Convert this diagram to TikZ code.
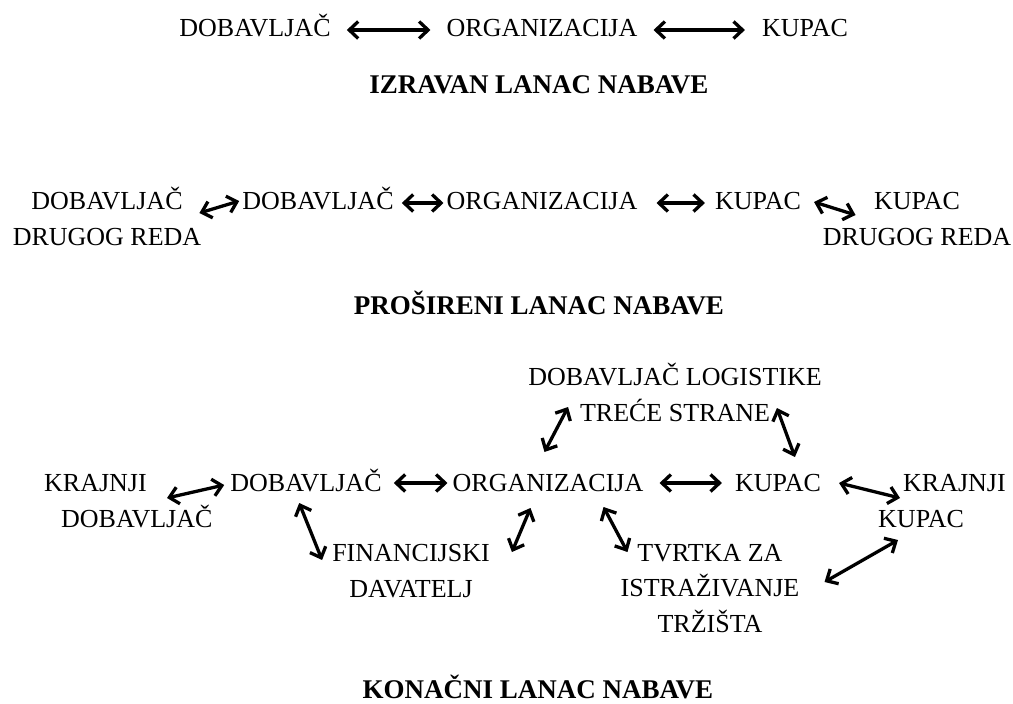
\documentclass[tikz,border=0pt]{standalone}
\usepackage{fontspec}
\setmainfont{Liberation Serif}
\usetikzlibrary{arrows.meta}

\begin{document}
\begin{tikzpicture}[x=1pt,y=-1pt,
    every node/.style={inner sep=0pt,anchor=base,font=\fontsize{26}{35.5}\selectfont},
    every path/.style={>={Straight Barb[length=9pt,width=17pt]}},
    link/.style={<->,line width=3.3pt},
    title/.style={font=\fontsize{27}{30}\selectfont\bfseries}]
\useasboundingbox (0,0) rectangle (1013,704);

% izravan lanac
\node (sup1) at (255,36.5) {DOBAVLJAČ};
\node (org1) at (542,36.5) {ORGANIZACIJA};
\node (cus1) at (805,36.5) {KUPAC};
\node[title] (t1) at (539,93.5) {IZRAVAN LANAC NABAVE};
\draw[link] ([shift={(16,-6.5)}]sup1.base east) -- ([shift={(-16,-6.5)}]org1.base west);
\draw[link] ([shift={(16,-6.5)}]org1.base east) -- ([shift={(-17,-6.5)}]cus1.base west);

% prosireni lanac (base = zadnji redak)
\node[align=center] (supB2) at (107,245) {DOBAVLJAČ\\DRUGOG REDA};
\node (sup2) at (318,209.5) {DOBAVLJAČ};
\node (org2) at (542,209.5) {ORGANIZACIJA};
\node (cus2) at (758,209.5) {KUPAC};
\node[align=center] (cusB2) at (917,245) {KUPAC\\DRUGOG REDA};
\node[title] (t2) at (539,314.5) {PROŠIRENI LANAC NABAVE};
\draw[link] ([shift={(-2,-32)}]supB2.base east) -- ([shift={(-3,-8.5)}]sup2.base west);
\draw[link] ([shift={(8,-6.5)}]sup2.base east) -- ([shift={(-3,-6.5)}]org2.base west);
\draw[link] ([shift={(19,-6.5)}]org2.base east) -- ([shift={(-10,-6.5)}]cus2.base west);
\draw[link] ([shift={(13,-7.5)}]cus2.base east) -- ([shift={(33,-30)}]cusB2.base west);

% konacni lanac
\node[align=left,anchor=base west] (supB3) at (44,527) {KRAJNJI\\\hspace*{17pt}DOBAVLJAČ};
\node (sup3) at (306,491.5) {DOBAVLJAČ};
\node (org3) at (548,491.5) {ORGANIZACIJA};
\node (cus3) at (778,491.5) {KUPAC};
\node[align=left,anchor=base west] (cusB3) at (878,527) {\hspace*{25pt}KRAJNJI\\KUPAC};
\node[align=center] (log3) at (675,421) {DOBAVLJAČ LOGISTIKE\\TREĆE STRANE};
\node[align=center] (fin3) at (411,597) {FINANCIJSKI\\DAVATELJ};
\node[align=center] (res3) at (710,632) {TVRTKA ZA\\ISTRAŽIVANJE\\TRŽIŠTA};
\node[title] (t3) at (538,698.5) {KONAČNI LANAC NABAVE};
\draw[link] ([shift={(123,-29)}]supB3.base west) -- ([shift={(-6,-6.5)}]sup3.base west);
\draw[link] ([shift={(12,-8.5)}]sup3.base east) -- ([shift={(-5,-8.5)}]org3.base west);
\draw[link] ([shift={(16,-8.5)}]org3.base east) -- ([shift={(-13,-8.5)}]cus3.base west);
\draw[link] ([shift={(18,-8.5)}]cus3.base east) -- ([shift={(22,-29)}]cusB3.base west);
\draw[link] ([shift={(20,13)}]cusB3.base west) -- ([shift={(25,-50)}]res3.base east);
\draw[link] ([shift={(92,-39.5)}]org3.base west) -- ([shift={(40,-14)}]log3.base west);
\draw[link] ([shift={(-45,-13)}]log3.base east) -- ([shift={(60,-34.5)}]cus3.base west);
\draw[link] ([shift={(78,16.5)}]org3.base west) -- ([shift={(22,-45)}]fin3.base east);
\draw[link] ([shift={(69,11.5)}]sup3.base west) -- ([shift={(-10,-37)}]fin3.base west);
\draw[link] ([shift={(-40,15.5)}]org3.base east) -- ([shift={(7,-80)}]res3.base west);
\end{tikzpicture}
\end{document}
